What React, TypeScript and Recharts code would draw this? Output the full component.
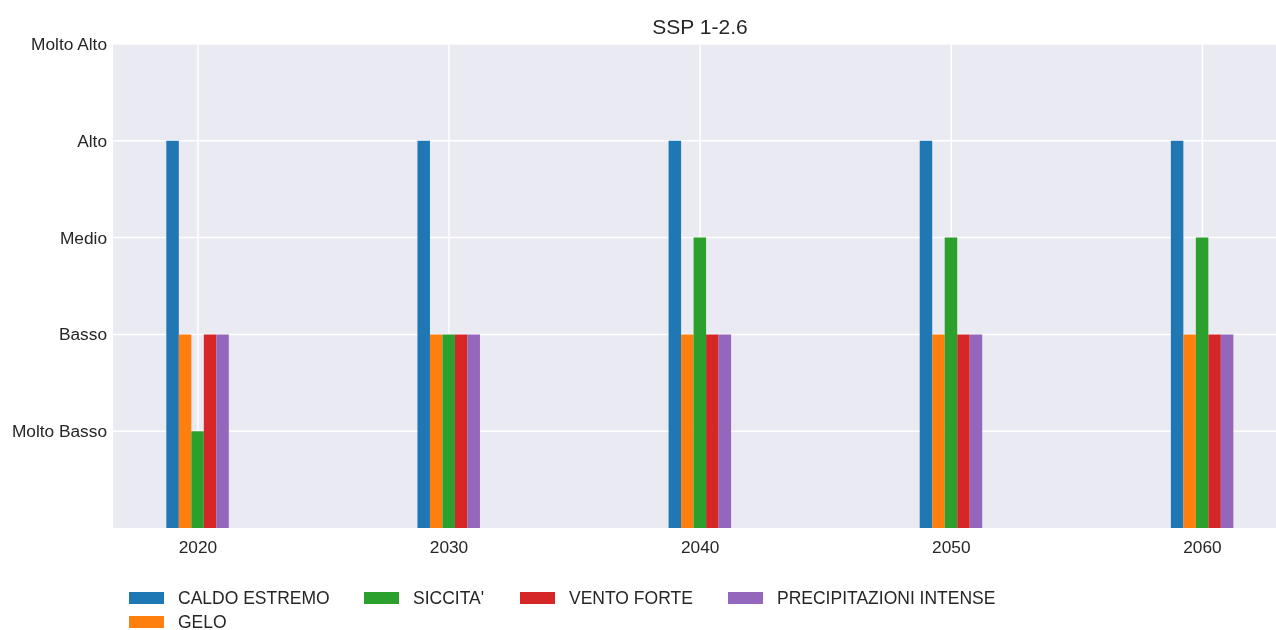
import { BarChart, Bar, XAxis, YAxis, CartesianGrid } from 'recharts';

const years = [2020, 2030, 2040, 2050, 2060];
const caldoEstremo = [4, 4, 4, 4, 4];
const gelo = [2, 2, 2, 2, 2];
const siccita = [1, 2, 3, 3, 3];
const ventoForte = [2, 2, 2, 2, 2];
const precipitazioniIntense = [2, 2, 2, 2, 2];
const levelTicks = [1, 2, 3, 4, 5];
const levelLabels = ['Molto Basso', 'Basso', 'Medio', 'Alto', 'Molto Alto'];

const series = [
    { key: 'caldo', name: 'CALDO ESTREMO', values: caldoEstremo, color: '#1f77b4' },
    { key: 'gelo', name: 'GELO', values: gelo, color: '#ff7f0e' },
    { key: 'siccita', name: "SICCITA'", values: siccita, color: '#2ca02c' },
    { key: 'vento', name: 'VENTO FORTE', values: ventoForte, color: '#d62728' },
    { key: 'precip', name: 'PRECIPITAZIONI INTENSE', values: precipitazioniIntense, color: '#9467bd' },
];

const data = years.map((year, i) => {
    const row: { [key: string]: number } = { year };
    series.forEach((s) => { row[s.key] = s.values[i]; });
    return row;
});

const FONT = '"Liberation Sans", Arial, sans-serif';
const TEXT = '#262626';

// legend laid out like matplotlib ncol=4 (column-major)
const legendSlots = [
    { left: 129, top: 592 },
    { left: 129, top: 616 },
    { left: 364, top: 592 },
    { left: 520, top: 592 },
    { left: 728, top: 592 },
];

function YTick({ y, payload }: any) {
    const label = levelLabels[levelTicks.indexOf(payload.value)];
    return (
        <text x={107} y={y} textAnchor="end" dominantBaseline="central" fontSize={17.3} fill={TEXT} fontFamily={FONT}>
            {label}
        </text>
    );
}

function XTick({ x, y, payload }: any) {
    return (
        <text x={x} y={y + 11} textAnchor="middle" dominantBaseline="central" fontSize={17.3} fill={TEXT} fontFamily={FONT}>
            {payload.value}
        </text>
    );
}

export default function App() {
    return (
        <div style={{ position: 'fixed', left: 0, top: 0, width: 1276, height: 630, background: '#fff', fontFamily: FONT }}>
            <div style={{ position: 'absolute', left: 0, width: 1400, top: 14, textAlign: 'center', fontSize: 21, color: TEXT, lineHeight: '26px' }}>
                SSP 1-2.6
            </div>
            <BarChart
                width={1276}
                height={630}
                data={data}
                margin={{ top: 44, right: 0, left: 0, bottom: 0 }}
                barGap={0}
                barSize={12.5}
            >
                <CartesianGrid fill="#eaeaf2" stroke="#ffffff" strokeWidth={1.5} horizontalValues={levelTicks} verticalValues={years} />
                <XAxis
                    dataKey="year"
                    type="number"
                    domain={[2016.62, 2062.93]}
                    allowDataOverflow
                    ticks={years}
                    axisLine={false}
                    tickLine={false}
                    height={102}
                    tick={<XTick />}
                />
                <YAxis
                    type="number"
                    domain={[0, 5]}
                    allowDataOverflow
                    ticks={levelTicks}
                    axisLine={false}
                    tickLine={false}
                    width={113}
                    tick={<YTick />}
                />
                {series.map((s) => (
                    <Bar key={s.key} dataKey={s.key} name={s.name} fill={s.color} isAnimationActive={false} />
                ))}
            </BarChart>
            {series.map((s, i) => (
                <div key={s.key} style={{ position: 'absolute', left: legendSlots[i].left, top: legendSlots[i].top, display: 'flex', alignItems: 'center', height: 12 }}>
                    <div style={{ width: 35, height: 12, background: s.color }} />
                    <span style={{ marginLeft: 14, fontSize: 17.5, color: TEXT, whiteSpace: 'nowrap', lineHeight: '12px' }}>{s.name}</span>
                </div>
            ))}
        </div>
    );
}
